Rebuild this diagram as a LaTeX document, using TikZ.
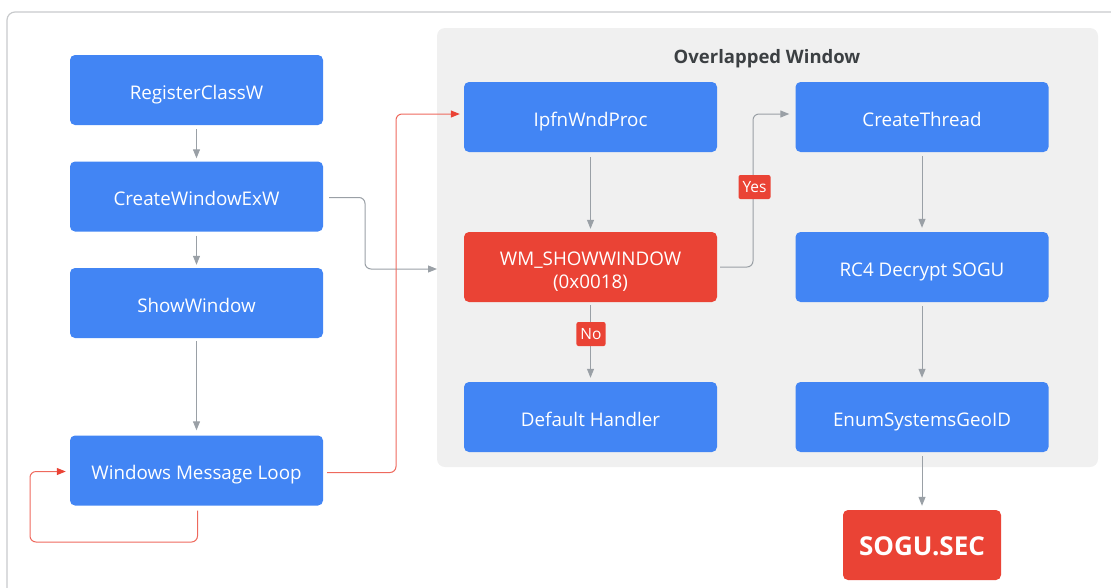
\documentclass[tikz,border=0pt]{standalone}
\usepackage{fontspec}
\setmainfont{Open Sans}
\usetikzlibrary{arrows.meta}
\definecolor{gblue}{HTML}{4285F4}
\definecolor{gred}{HTML}{EA4335}
\definecolor{panelgray}{HTML}{F0F0F0}
\definecolor{linegray}{HTML}{9AA0A6}
\definecolor{titlegray}{HTML}{3C4043}
\definecolor{framegray}{HTML}{C8CACC}
\tikzset{
  box/.style={rectangle, rounded corners=5pt, fill=gblue, text=white,
    minimum width=253pt, minimum height=70pt, inner sep=0pt, align=center,
    text height=18.4pt, text depth=0pt,
    font=\fontsize{18.8}{23}\selectfont},
  redbox/.style={box, fill=gred},
  tag/.style={rectangle, rounded corners=2pt, fill=gred, text=white,
    inner xsep=4pt, inner ysep=0pt, minimum height=24pt,
    text height=11pt, text depth=0pt, font=\fontsize{15.5}{18}\selectfont},
  flow/.style={draw=linegray, line width=1pt, rounded corners=6pt,
    -{Triangle[length=9pt,width=7pt]}},
  loopflow/.style={draw=gred!80, line width=1pt, rounded corners=6pt,
    -{Triangle[length=9pt,width=7pt,color=gred]}}
}
\begin{document}
\begin{tikzpicture}[x=1pt,y=-1pt]
\useasboundingbox (0,0) rectangle (1111,587);
% outer frame, running off the right and bottom edges
\draw[framegray, line width=1.2pt, rounded corners=8pt] (7,640) -- (7,12) -- (1160,12);
% grouping panel
\fill[panelgray, rounded corners=8pt] (437,28) rectangle (1098,467);
\node[font=\bfseries\fontsize{18.5}{22}\selectfont, text=titlegray] (title) at (767,58.5) {Overlapped Window};

% left column
\node[box] (reg)  at (196.5,90)    {RegisterClassW};
\node[box] (cwe)  at (196.5,196.5) {CreateWindowExW};
\node[box] (show) at (196.5,303)   {ShowWindow};
\node[box] (loop) at (196.5,470.5) {Windows Message Loop};

% window procedure branch
\node[box]    (proc) at (590.5,117) {IpfnWndProc};
\node[redbox, text height=43.5pt] (wm) at (590.5,267) {WM\_SHOWWINDOW\\(0x0018)};
\node[box]    (def)  at (590.5,417) {Default Handler};

% thread branch
\node[box] (thr)  at (922,117) {CreateThread};
\node[box] (rc4)  at (922,267) {RC4 Decrypt SOGU};
\node[box] (enum) at (922,417) {EnumSystemsGeoID};
\node[redbox, minimum width=158pt, text height=20.6pt,
      font=\bfseries\fontsize{26}{30}\selectfont] (sec) at (922,545) {SOGU.SEC};

% left column connectors
\draw[flow] ([yshift=-4pt]reg.south) -- ([yshift=3pt]cwe.north);
\draw[flow] ([yshift=-4pt]cwe.south) -- ([yshift=3pt]show.north);
\draw[flow] ([yshift=-3pt]show.south) -- ([yshift=5pt]loop.north);
\coordinate (panelin) at (437,269);
\draw[flow] ([xshift=6pt,yshift=-1pt]cwe.east) -| (365,233) |- (panelin);

% message loop
\draw[loopflow] ([xshift=4pt,yshift=-2pt]loop.east) -| (396,235) |- ([xshift=-4pt,yshift=3pt]proc.west);
\draw[loopflow] ([xshift=1pt,yshift=-5pt]loop.south) |- (30,542) |- ([xshift=-4pt,yshift=-1pt]loop.west);

% window procedure connectors
\draw[flow] ([yshift=-5pt]proc.south) -- ([yshift=3pt]wm.north);
\draw[flow] ([xshift=3pt]wm.east) -| (753,190) |- ([xshift=-6pt,yshift=3pt]thr.west);
\node[tag] (yes) at (754.5,187) {Yes};
\draw[flow] ([yshift=-3pt]wm.south) -- ([yshift=4pt]def.north);
\node[tag] (no) at (591,334) {No};

% thread connectors
\draw[flow] ([yshift=-4pt]thr.south) -- ([yshift=4pt]rc4.north);
\draw[flow] ([yshift=-4pt]rc4.south) -- ([yshift=4pt]enum.north);
\draw[flow] ([yshift=-4pt]enum.south) -- ([yshift=4pt]sec.north);
\end{tikzpicture}
\end{document}
